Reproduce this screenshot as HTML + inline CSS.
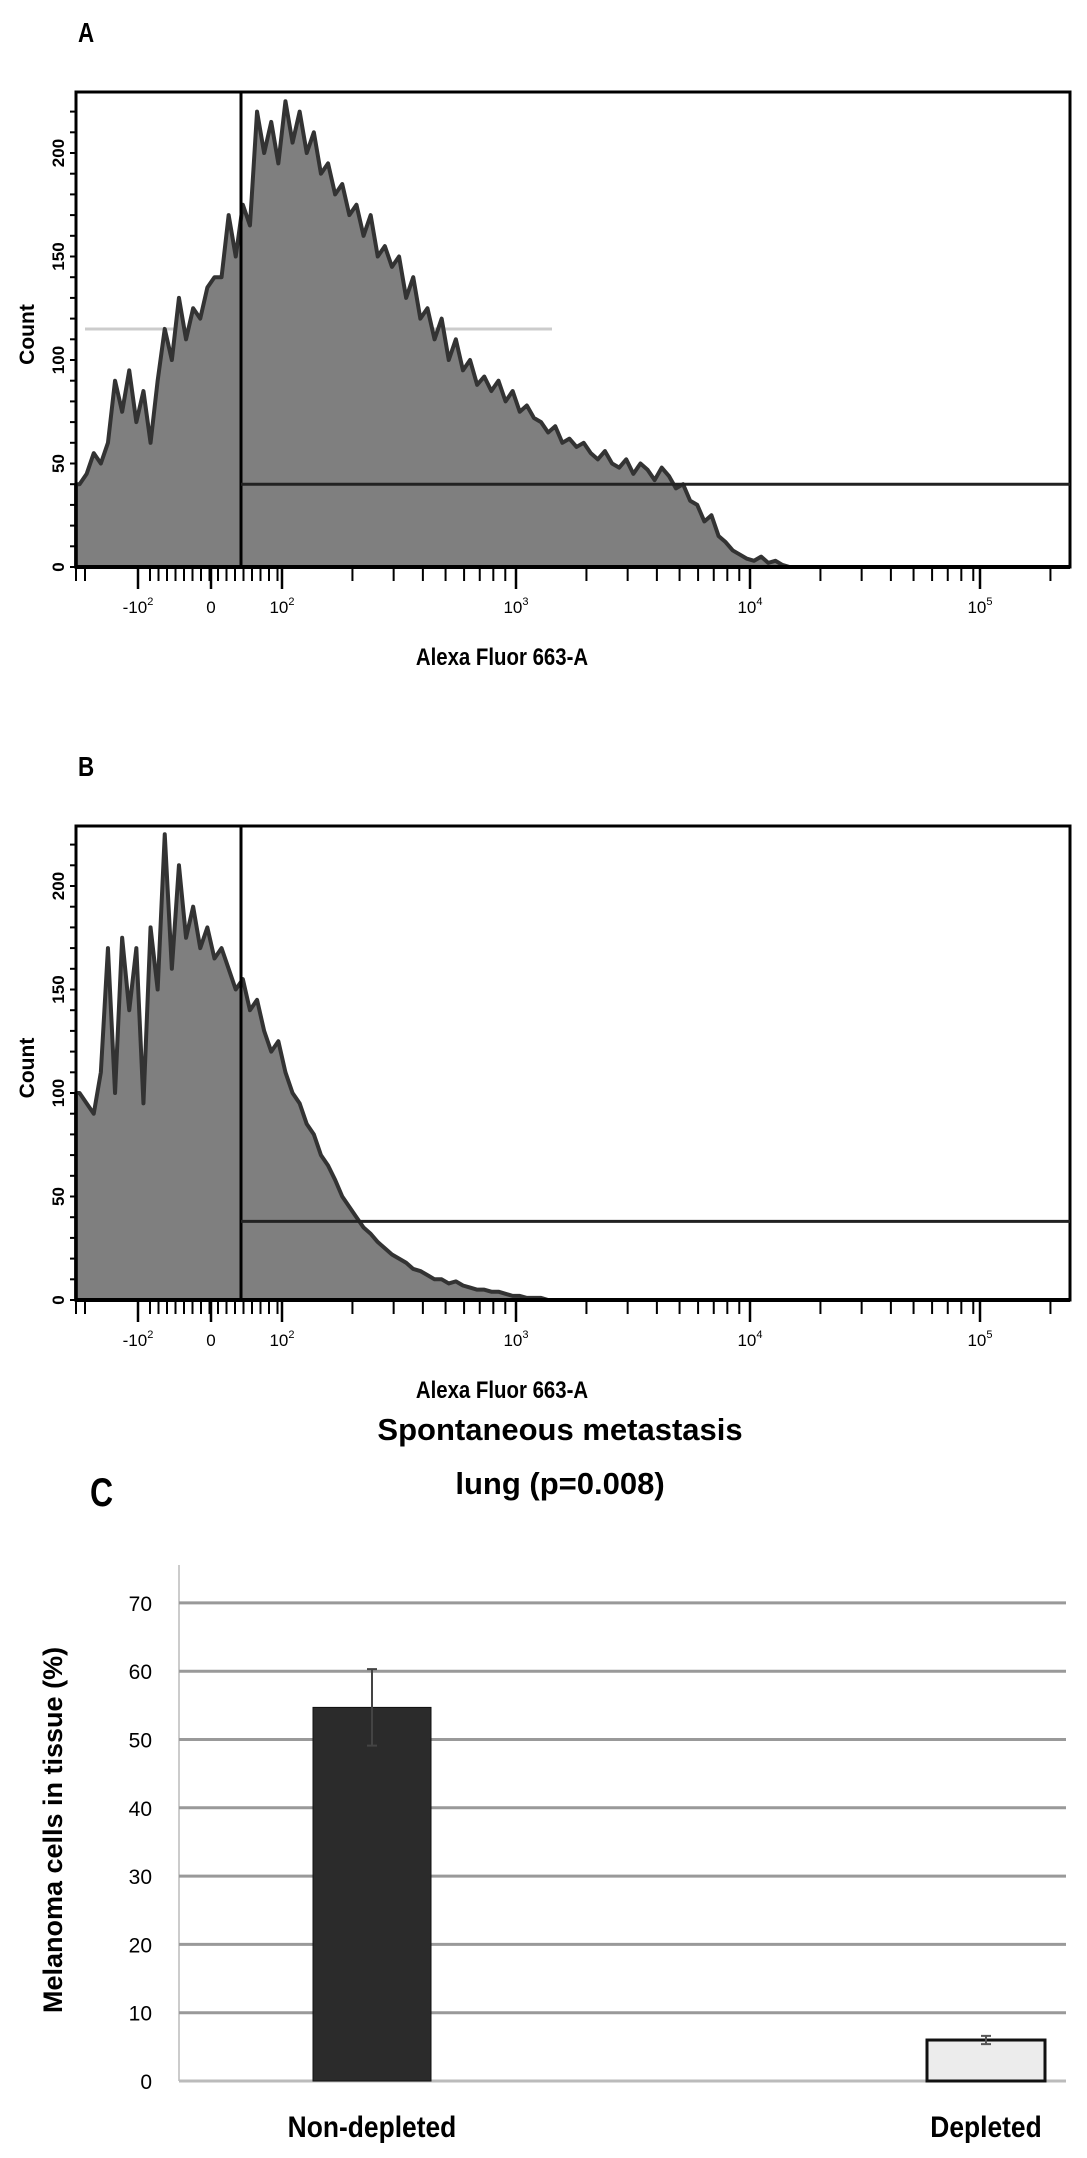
<!DOCTYPE html>
<html><head><meta charset="utf-8"><style>
html,body{margin:0;padding:0;background:#fff;}
svg{display:block;font-family:"Liberation Sans",Arial,sans-serif;}
</style></head><body>
<svg id="fig" width="1087" height="2158" viewBox="0 0 1087 2158">
<text x="78" y="42" font-size="28" font-weight="bold" transform="translate(78,0) scale(0.8,1) translate(-78,0)">A</text>
<text x="78" y="776" font-size="28" font-weight="bold" transform="translate(78,0) scale(0.8,1) translate(-78,0)">B</text>
<text x="90" y="1506" font-size="40" font-weight="bold" transform="translate(90,0) scale(0.8,1) translate(-90,0)">C</text>
<g id="ga"></g>
<g id="gb"></g>
<g id="gc"></g>
</svg>
<script>
// ---------- histogram data ----------
const histA = [40,45,55,50,60,90,75,95,70,85, 60,90,115,100,130,110,125,120,135,140,
 140,170,150,175,165,220,200,215,195,225, 205,220,200,210,190,195,180,185,170,175,
 160,170,150,155,145,150,130,140,120,125, 110,120,100,110,95,100,88,92,85,90,
 80,85,75,78,72,70,65,68,60,62, 58,60,55,52,56,50,48,52,45,50,
 47,42,48,44,38,40,32,30,22,25, 15,12,8,6,4,3,5,2,3,1];
const histB = [100,95,90,110,170,100,175,140,170,95, 180,150,225,160,210,175,190,170,180,165,
 170,160,150,155,140,145,130,120,125,110, 100,95,85,80,70,65,58,50,45,40,
 35,32,28,25,22,20,18,15,14,12, 10,10,8,9,7,6,5,5,4,4, 3,2,2,1,1,1,0];
const yTicksHist = [0,50,100,150,200];
const decadeLabels = ["-10","0","10","10","10","10"];
const decadeExp = ["2","","2","3","4","5"];
const gateCountA = 40, gateCountB = 38;
const TOTAL_BINS = 140;

// ---------- bar chart data ----------
const categories = ["Non-depleted","Depleted"];
const barValues = [54.7, 6.0];
const barErrors = [5.6, 0.6];
const yTicksBar = [0,10,20,30,40,50,60,70];

const NS="http://www.w3.org/2000/svg";
function mk(tag, attrs, parent){const e=document.createElementNS(NS,tag);for(const k in attrs)e.setAttribute(k,attrs[k]);parent.appendChild(e);return e;}

function drawHist(g, data, top, base, gate, faint){
  const L=76,R=1070;
  const countPerPx = 50/103.5;
  const y = c => base - c/countPerPx;
  const x = i => L + (i+0.5)*(R-L)/TOTAL_BINS;
  if(faint){const fl=mk('line',{x1:85,x2:552,y1:y(115),y2:y(115),stroke:'#ccc','stroke-width':3},g);
  
  }
  let d=`M${L},${base} L${L},${y(data[0])}`;
  data.forEach((c,i)=>{d+=` L${x(i)},${y(c)}`;});
  d+=` L${x(data.length)},${base} Z`;
  const p=mk('path',{d:d,fill:'#7f7f7f',stroke:'#333','stroke-width':4,'stroke-linejoin':'round'},g);
  
  
  const fr=mk('rect',{x:L,y:top,width:R-L,height:base-top,fill:'none',stroke:'#000','stroke-width':3},g);
  
  
  mk('line',{x1:L,x2:R,y1:base,y2:base,stroke:'#000','stroke-width':4},g);
  const gv=mk('line',{x1:241,x2:241,y1:top,y2:base,stroke:'#000','stroke-width':3},g);
  
  
  const gh=mk('line',{x1:241,x2:R,y1:y(gate),y2:y(gate),stroke:'#222','stroke-width':3},g);
  
  
  for(let c=0;c<=220;c+=10){mk('line',{x1:L-6,x2:L,y1:y(c),y2:y(c),stroke:'#000','stroke-width':2},g);}
  yTicksHist.forEach(c=>{
    const t=mk('text',{x:0,y:0,'font-size':17,'font-weight':'bold','text-anchor':'middle',transform:`translate(${L-12},${y(c)}) rotate(-90)`},g);
    t.textContent=c;
    
    
  });
  const yl=mk('text',{x:0,y:0,'font-size':21,'font-weight':'bold','text-anchor':'middle',transform:`translate(34,${(top+base)/2+5}) rotate(-90)`},g);
  yl.textContent='Count';
  
  
  const dec=[138,211,282,516,750,980];
  const per=234;
  const tk=[85,L];
  for(let k=0;k<16;k++) tk.push(150+k*8.5);
  [2,3].forEach(d=>{for(let m=2;m<=9;m++) tk.push(dec[d]+Math.log10(m)*per);});
  for(let m=2;m<=9;m++) tk.push(dec[4]+Math.log10(m)*per);
  tk.push(dec[5]+Math.log10(2)*per, dec[5]);
  dec.forEach(v=>mk('line',{x1:v,x2:v,y1:base,y2:base+22,stroke:'#000','stroke-width':2.5},g));
  tk.forEach(v=>mk('line',{x1:v,x2:v,y1:base,y2:base+14,stroke:'#000','stroke-width':2},g));
  decadeLabels.forEach((s,i)=>{
    const t=mk('text',{x:dec[i],y:base+46,'font-size':17,'text-anchor':'middle'},g);
    t.textContent=s;
    if(decadeExp[i]){const ts=mk('tspan',{dy:-8,'font-size':11},t);ts.textContent=decadeExp[i];}
    
    
  });
  const xl=mk('text',{x:502,y:base+98,'font-size':24,'font-weight':'bold','text-anchor':'middle',transform:`translate(502,0) scale(0.85,1) translate(-502,0)`},g);
  xl.textContent='Alexa Fluor 663-A';
  
  
}
drawHist(document.getElementById('ga'),histA,92,567,gateCountA,true);
drawHist(document.getElementById('gb'),histB,826,1300,gateCountB,false);

(function(){
  const g=document.getElementById('gc');
  const base=2081, per10=68.3, L=179, R=1066;
  const y=v=>base-v/10*per10;
  const cx=[372,986], bw=118;
  const t1=mk('text',{x:560,y:1440,'font-size':31,'font-weight':'bold','text-anchor':'middle'},g);
  t1.textContent='Spontaneous metastasis';
  
  
  const t2=mk('text',{x:560,y:1494,'font-size':31,'font-weight':'bold','text-anchor':'middle'},g);
  t2.textContent='lung (p=0.008)';
  
  
  mk('line',{x1:L,x2:L,y1:1565,y2:base,stroke:'#ccc','stroke-width':2},g);
  yTicksBar.forEach(v=>{
    const gl=mk('line',{x1:L,x2:R,y1:y(v),y2:y(v),stroke:v===0?'#bbb':'#999','stroke-width':3},g);
    
    
    const t=mk('text',{x:152,y:y(v)+8,'font-size':21,'text-anchor':'end'},g);
    t.textContent=v;
    
    
  });
  const yt=mk('text',{x:0,y:0,'font-size':27,'font-weight':'bold','text-anchor':'middle',transform:`translate(62,1830) rotate(-90)`},g);
  yt.textContent='Melanoma cells in tissue (%)';
  
  
  categories.forEach((c,i)=>{
    const r=mk('rect',{x:cx[i]-bw/2,y:y(barValues[i]),width:bw,height:base-y(barValues[i]),fill:i===0?'#2b2b2b':'#ececec',stroke:'#111','stroke-width':i===0?1:3},g);
    
    
    const e=mk('path',{d:`M${cx[i]},${y(barValues[i]+barErrors[i])} V${y(barValues[i]-barErrors[i])} M${cx[i]-5},${y(barValues[i]+barErrors[i])} H${cx[i]+5} M${cx[i]-5},${y(barValues[i]-barErrors[i])} H${cx[i]+5}`,stroke:i===0?'#444':'#555','stroke-width':2,fill:'none'},g);
    
    
    const t=mk('text',{x:cx[i],y:2137,'font-size':30,'font-weight':'bold','text-anchor':'middle',transform:`translate(${cx[i]},0) scale(0.88,1) translate(${-cx[i]},0)`},g);
    t.textContent=c;
    
    
  });
})();
</script>
</body></html>
